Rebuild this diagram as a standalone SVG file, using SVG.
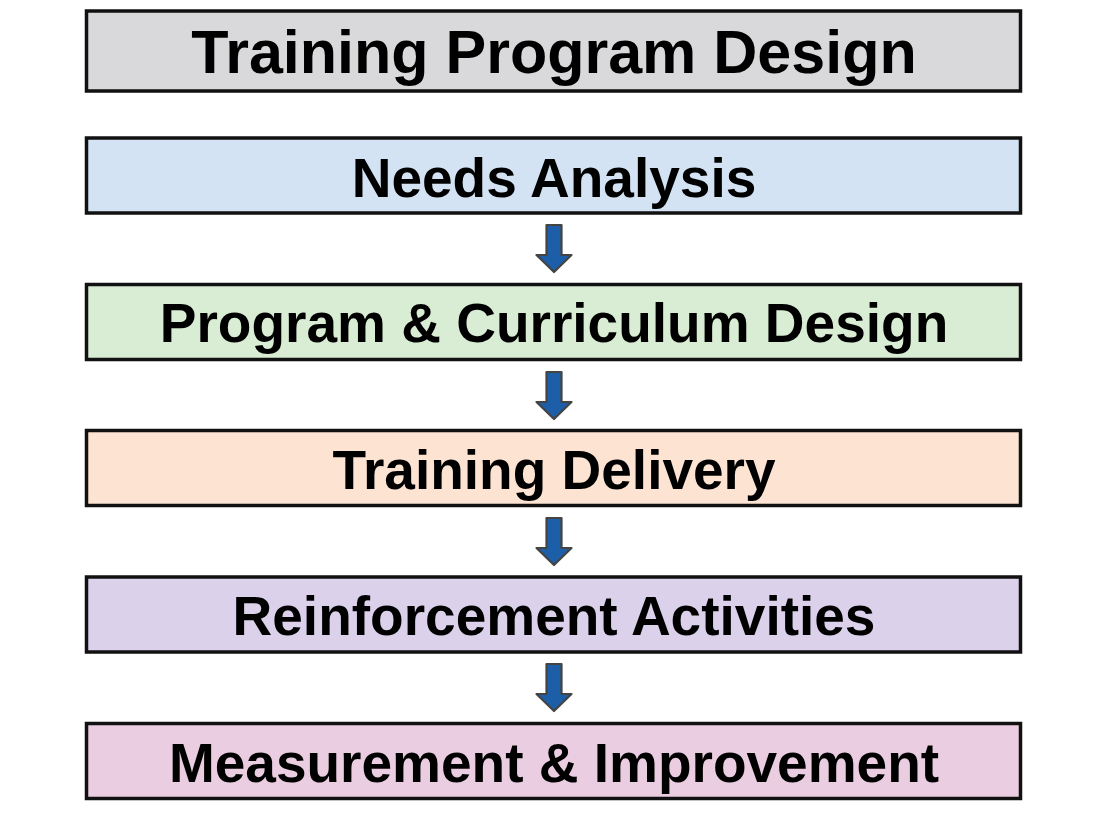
<svg xmlns="http://www.w3.org/2000/svg" width="1100" height="824" viewBox="0 0 1100 824">
<defs>
<style>
.box{stroke:#111;stroke-width:3.5}
.lbl{font-family:"Liberation Sans",Arial,sans-serif;font-weight:bold;font-size:55px;fill:#000;text-anchor:middle}
.arrow{fill:#1d5ea8;stroke:#444;stroke-width:2.2;stroke-linejoin:round}
</style>
<path id="arr" d="M-7.5,0 H7.5 V30 H17.5 L0,47 L-17.5,30 H-7.5 Z"/>
</defs>
<rect width="1100" height="824" fill="#ffffff"/>
<g id="title">
<rect class="box" x="86.5" y="11" width="934" height="80" fill="#d9d8db"/>
<text class="lbl" x="554" y="73" style="font-size:61px">Training Program Design</text>
</g>
<g id="needs">
<rect class="box" x="86.5" y="138" width="934" height="75" fill="#d3e3f3"/>
<text class="lbl" x="554" y="197">Needs Analysis</text>
</g>
<g id="program">
<rect class="box" x="86.5" y="284.5" width="934" height="75" fill="#d9ecd4"/>
<text class="lbl" x="554" y="342">Program &amp; Curriculum Design</text>
</g>
<g id="delivery">
<rect class="box" x="86.5" y="430.5" width="934" height="75" fill="#fce3d2"/>
<text class="lbl" x="554" y="489">Training Delivery</text>
</g>
<g id="reinforcement">
<rect class="box" x="86.5" y="577" width="934" height="75" fill="#dcd1eb"/>
<text class="lbl" x="554" y="635">Reinforcement Activities</text>
</g>
<g id="measurement">
<rect class="box" x="86.5" y="723.5" width="934" height="75" fill="#eacde0"/>
<text class="lbl" x="554" y="782">Measurement &amp; Improvement</text>
</g>
<g id="connectors">
<use href="#arr" class="arrow" x="554" y="225"/>
<use href="#arr" class="arrow" x="554" y="372"/>
<use href="#arr" class="arrow" x="554" y="518"/>
<use href="#arr" class="arrow" x="554" y="664"/>
</g>
</svg>
